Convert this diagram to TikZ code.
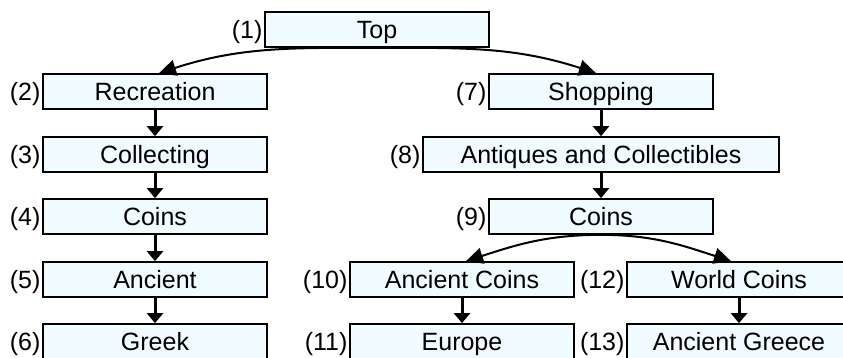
\documentclass[tikz,border=0pt]{standalone}
\usepackage{fontspec}
\setmainfont{Liberation Sans}
\usetikzlibrary{arrows.meta}
\definecolor{boxfill}{RGB}{240,252,255}
\tikzset{
  textfont/.style={font=\fontsize{25}{29}\selectfont, text height=18pt, text depth=0pt},
  catbox/.style={draw=black, line width=1.7pt, fill=boxfill, minimum width=224pt,
    minimum height=35pt, inner sep=0pt, textfont},
  widebox/.style={catbox, minimum width=356pt},
  numlbl/.style={anchor=east, inner sep=1.5pt, textfont},
  downarrow/.style={line width=3pt, -{Triangle[length=10pt,width=16pt]}},
  bendarrow/.style={line width=2pt, -{Triangle[length=17pt,width=16pt]}}
}
\begin{document}
\begin{tikzpicture}[x=1pt,y=1pt]
  \useasboundingbox (0,0) rectangle (843,-358);
  \clip (0,0) rectangle (843,-358);

  % category boxes
  \node[catbox] (top)    at (377,-29.5)  {Top};
  \node[catbox] (rec)    at (155,-91.5)  {Recreation};
  \node[catbox] (col)    at (155,-154.5) {Collecting};
  \node[catbox] (coinsA) at (155,-216.5) {Coins};
  \node[catbox] (anc)    at (155,-279.5) {Ancient};
  \node[catbox] (greek)  at (155,-341.5) {Greek};
  \node[catbox] (shop)   at (601,-91.5)  {Shopping};
  \node[widebox] (antq)  at (601,-154.5) {Antiques and Collectibles};
  \node[catbox] (coinsB) at (601,-216.5) {Coins};
  \node[catbox] (ancc)   at (462,-279.5) {Ancient Coins};
  \node[catbox] (europe) at (462,-341.5) {Europe};
  \node[catbox] (world)  at (739,-279.5) {World Coins};
  \node[catbox] (greece) at (739,-341.5) {Ancient Greece};

  % numbering
  \node[numlbl] (n1)  at (top.west)    {(1)};
  \node[numlbl] (n2)  at (rec.west)    {(2)};
  \node[numlbl] (n3)  at (col.west)    {(3)};
  \node[numlbl] (n4)  at (coinsA.west) {(4)};
  \node[numlbl] (n5)  at (anc.west)    {(5)};
  \node[numlbl] (n6)  at (greek.west)  {(6)};
  \node[numlbl] (n7)  at (shop.west)   {(7)};
  \node[numlbl] (n8)  at (antq.west)   {(8)};
  \node[numlbl] (n9)  at (coinsB.west) {(9)};
  \node[numlbl] (n10) at (ancc.west)   {(10)};
  \node[numlbl] (n11) at (europe.west) {(11)};
  \node[numlbl] (n12) at (world.west)  {(12)};
  \node[numlbl] (n13) at (greece.west) {(13)};

  % straight links
  \draw[downarrow] (rec)    -- (col);
  \draw[downarrow] (col)    -- (coinsA);
  \draw[downarrow] (coinsA) -- (anc);
  \draw[downarrow] (anc)    -- (greek);
  \draw[downarrow] (shop)   -- (antq);
  \draw[downarrow] (antq)   -- (coinsB);
  \draw[downarrow] (ancc)   -- (europe);
  \draw[downarrow] (world)  -- (greece);

  % branching links
  \draw[bendarrow] (top.south)    to[out=180,in=18]  ([xshift=4pt]rec.north);
  \draw[bendarrow] (top.south)    to[out=0,in=162]   ([xshift=-5pt]shop.north);
  \draw[bendarrow] (coinsB.south) to[out=180,in=18]  ([xshift=4pt]ancc.north);
  \draw[bendarrow] (coinsB.south) to[out=0,in=162]   ([xshift=-8pt]world.north);
\end{tikzpicture}
\end{document}
